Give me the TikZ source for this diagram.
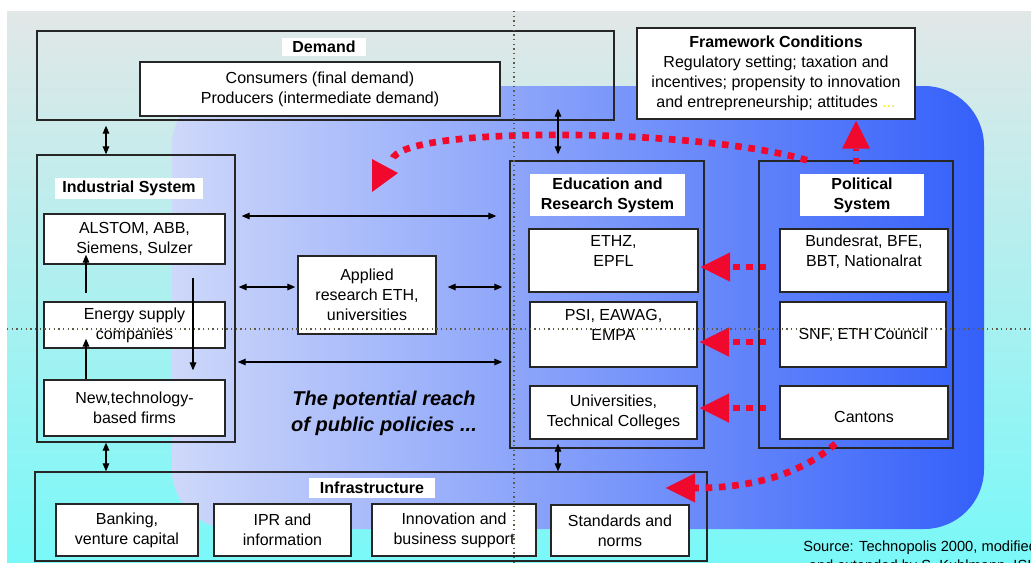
\documentclass[tikz,border=0pt]{standalone}
\usepackage{fontspec}
\setmainfont{Liberation Sans}
\usetikzlibrary{arrows.meta}
\definecolor{polred}{RGB}{240,8,45}
\definecolor{reachlo}{RGB}{206,216,250}
\definecolor{reachhi}{RGB}{52,96,250}
\definecolor{skytop}{RGB}{226,231,231}
\definecolor{skymid}{RGB}{178,240,240}
\definecolor{skybot}{RGB}{122,248,248}
\definecolor{guide}{RGB}{95,90,70}
\definecolor{dotyellow}{RGB}{240,236,0}

\begin{document}
\begin{tikzpicture}[x=0.75pt,y=0.75pt,yscale=-1,
    boxsize/.style 2 args={minimum width=#1*0.75pt,minimum height=#2*0.75pt},
    grp/.style={draw=black!85,line width=1.1pt,inner sep=0pt},
    unit/.style={grp,fill=white,align=center,font=\fontsize{12}{15}\selectfont},
    ttl/.style={fill=white,inner sep=0pt,align=center,font=\bfseries\fontsize{12}{15}\selectfont},
    link/.style={line width=0.8pt,{Triangle[length=6pt,width=5pt]}-{Triangle[length=6pt,width=5pt]}},
    flow/.style={line width=0.8pt,-{Triangle[length=6pt,width=5pt]}},
    push/.style={draw=polred,line width=5pt,dash pattern=on 5pt off 5pt},
    bigtip/.style={-{Triangle[length=#1,width=#1,line width=0pt]}},
    guideline/.style={draw=guide,line width=0.9pt,dash pattern=on 0.9pt off 2.6pt}]
        \useasboundingbox (0,0) rectangle (1031,562);
        %Shape: Rectangle (background)
        \shade[top color=skytop,middle color=skymid,bottom color=skybot] (7,11) rectangle (1031,562);
        %Shape: Rounded Rectangle (reach of policies)
        \shade[left color=reachlo,right color=reachhi,rounded corners=45pt] (172,86) rectangle (984,529);

        %lanes for the connectors
        \coordinate (demandlane) at (106,0);
        \coordinate (edulane) at (558,0);
        \coordinate (leftlane) at (86,0);
        \coordinate (downlane) at (193,0);
        \coordinate (toplane) at (0,216);
        \coordinate (midlane) at (0,287);
        \coordinate (lowlane) at (0,362);
        \coordinate (ethzlane) at (0,267);
        \coordinate (psilane) at (0,342);
        \coordinate (univlane) at (0,408);

        % Demand
        \draw (325.5,75.5) node[grp,boxsize={577}{89}] (demand) {};
        \draw (324,47) node[ttl,boxsize={84}{18}] (demandttl) {Demand};
        \draw (320,89) node[unit,boxsize={360}{54}] (consumers) {Consumers (final demand)\\Producers (intermediate demand)};
        % Framework Conditions
        \draw (776,73.5) node[unit,boxsize={278}{91}] (framework) {\textbf{Framework Conditions}\\Regulatory setting; taxation and\\incentives; propensity to innovation\\and entrepreneurship; attitudes \textcolor{dotyellow}{...}};

        % Industrial System
        \draw (136,298.5) node[grp,boxsize={198}{287}] (industrial) {};
        \draw (129,188.5) node[ttl,boxsize={148}{21}] (industrialttl) {Industrial System};
        \draw (134.5,239) node[unit,boxsize={181}{50}] (alstom) {ALSTOM, ABB,\\Siemens, Sulzer};
        \draw (134.5,325) node[unit,boxsize={181}{46}] (energy) {Energy supply\\companies};
        \draw (134.5,408) node[unit,boxsize={181}{56}] (newtech) {New,technology-\\based firms};

        % Applied research
        \draw (367,295) node[unit,boxsize={138}{78}] (applied) {Applied\\research ETH,\\universities};
        % Text Node
        \draw (384,413) node[inner sep=0pt,align=center,font=\bfseries\itshape\fontsize{15}{19.5}\selectfont] (reach) {The potential reach\\of public policies ...};

        % Education and Research System
        \draw (607,304.5) node[grp,boxsize={194}{287}] (education) {};
        \draw (607.5,195) node[ttl,boxsize={155}{42}] (educationttl) {Education and\\Research System};
        \draw (613.5,260.5) node[unit,boxsize={169}{63}] (ethz) {ETHZ,\\EPFL\\ \mbox{}};
        \draw (613.5,334.5) node[unit,boxsize={167}{65}] (psi) {PSI, EAWAG,\\EMPA\\ \mbox{}};
        \draw (613.5,412.5) node[unit,boxsize={167}{53}] (univ) {Universities,\\Technical Colleges};

        % Political System
        \draw (856,304.5) node[grp,boxsize={194}{287}] (political) {};
        \draw (862,195) node[ttl,boxsize={124}{42}] (politicalttl) {Political\\System};
        \draw (864,260.5) node[unit,boxsize={168}{63}] (bundesrat) {Bundesrat, BFE,\\BBT, Nationalrat\\ \mbox{}};
        \draw (863,334.5) node[unit,boxsize={166}{65}] (snf) {SNF, ETH Council};
        \draw (864,412.5) node[unit,boxsize={168}{53}] (cantons) {\mbox{}\\Cantons};

        % Infrastructure
        \draw (371,516.5) node[grp,boxsize={672}{89}] (infra) {};
        \draw (372,488) node[ttl,boxsize={126}{20}] (infrattl) {Infrastructure};
        \draw (127,530) node[unit,boxsize={142}{52}] (banking) {Banking,\\venture capital};
        \draw (282.5,530) node[unit,boxsize={137}{52}] (ipr) {IPR and\\information};
        \draw (454,530) node[unit,boxsize={164}{52}] (innovation) {Innovation and\\business support};
        \draw (620,530.5) node[unit,boxsize={138}{51}] (standards) {Standards and\\norms};

        % Text Node
        \draw (803,570) node[anchor=base west,inner sep=0pt,align=center,font=\fontsize{11}{14}\selectfont] (source) {Source: Technopolis 2000, modified\\and extended by S. Kuhlmann, ISI};

        %Straight Lines (links between the systems)
        \draw[link,shorten <=3.75pt] (demand.south -| demandlane) -- (industrial.north -| demandlane);
        \draw[link,shorten <=-9pt,shorten >=4.5pt] (demand.south -| edulane) -- (education.north -| edulane);
        \draw[link] (industrial.south -| demandlane) -- (infra.north -| demandlane);
        \draw[link,shorten <=-3.75pt] (education.south -| edulane) -- (infra.north -| edulane);
        \draw[link,shorten <=4.5pt,shorten >=9.75pt] (industrial.east |- toplane) -- (education.west |- toplane);
        \draw[link,shorten <=2.25pt,shorten >=1.5pt] (industrial.east |- midlane) -- (applied.west |- midlane);
        \draw[link,shorten <=8.25pt,shorten >=5.25pt] (applied.east |- midlane) -- (education.west |- midlane);
        \draw[link,shorten <=1.5pt,shorten >=5.25pt] (industrial.east |- lowlane) -- (education.west |- lowlane);
        %Straight Lines (inside industry)
        \draw[flow,shorten <=6pt,shorten >=-7.5pt] (energy.north -| leftlane) -- (alstom.south -| leftlane);
        \draw[flow,shorten >=-7.5pt] (newtech.north -| leftlane) -- (energy.south -| leftlane);
        \draw[flow,shorten <=9.75pt,shorten >=6.75pt] (alstom.south -| downlane) -- (newtech.north -| downlane);

        %Straight Lines (policy)
        \draw[push,bigtip=22pt,shorten <=9.75pt,shorten >=1.5pt] (bundesrat.west |- ethzlane) -- (ethz.east |- ethzlane);
        \draw[push,bigtip=22pt,shorten <=9.75pt,shorten >=1.5pt] (snf.west |- psilane) -- (psi.east |- psilane);
        \draw[push,bigtip=22pt,shorten <=9.75pt,shorten >=1.5pt] (cantons.west |- univlane) -- (univ.east |- univlane);
        \draw[push,bigtip=21pt,shorten <=-3pt,shorten >=0.75pt] (political.north) -- (framework.south -| political.north);
        %Curve Lines
        \coordinate (reachend) at (392,160);
        \draw[push] ([xshift=-36.75pt]political.north) .. controls (700,128) and (400,125) .. (reachend);
        \fill[polred] (372,159) -- (398,173) -- (372,192) -- cycle;
        \draw[push,bigtip=22pt,shorten <=4.5pt] ([xshift=-18pt]cantons.south) .. controls (800,475) and (750,488) .. ([xshift=-31.5pt,yshift=-21.4pt]infra.east);

        %Straight Lines (guides)
        \draw[guideline] (514,11) -- (514,562);
        \draw[guideline] (7,329) -- (1031,329);
\end{tikzpicture}
\end{document}
